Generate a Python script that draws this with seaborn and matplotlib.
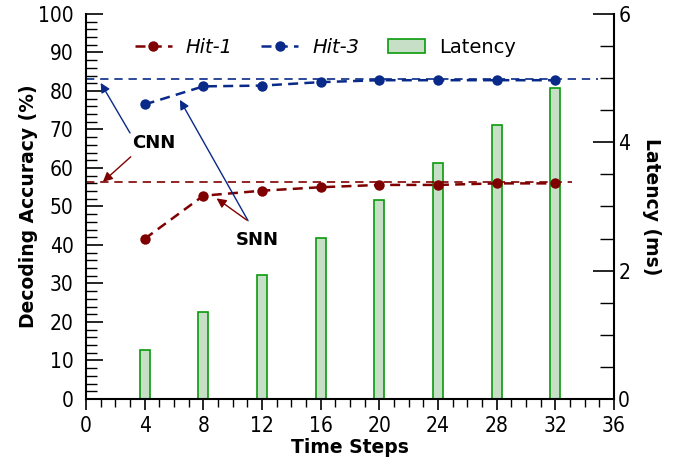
import matplotlib
matplotlib.use("Agg")
import matplotlib.pyplot as plt
from matplotlib import font_manager
from matplotlib.ticker import MultipleLocator
from matplotlib.patches import Patch
from matplotlib.lines import Line2D
import seaborn as sns
import pandas as pd

# Data
time_steps = [4, 8, 12, 16, 20, 24, 28, 32]
hit1 = [41.6, 52.8, 54.1, 55.0, 55.6, 55.6, 56.0, 56.0]
hit3 = [76.5, 81.2, 81.4, 82.3, 82.8, 82.8, 82.8, 82.8]
latency = [0.76, 1.35, 1.93, 2.51, 3.10, 3.68, 4.27, 4.85]
cnn_hit1 = 56.4
cnn_hit3 = 83.2

red = "#7f0000"
blue = "#0a2a8a"
bar_fill = "#c6dfc6"
bar_edge = "#0a9a0a"

sns.set_style("white")
plt.rcParams['font.family'] = ['DejaVu Sans']
plt.rcParams.update({"text.color": "black", "axes.labelcolor": "black",
                     "xtick.color": "black", "ytick.color": "black"})

# narrow regular font for the tick numbers, if one is there
narrow = [f for f in font_manager.fontManager.ttflist
          if ("Narrow" in f.name or "ondensed" in f.fname)
          and f.weight in (400, "normal", "regular", "book") and f.style == "normal"]
narrow.sort(key=lambda f: 0 if "Liberation" in f.name else 1)
if narrow:
    tick_prop = font_manager.FontProperties(fname=narrow[0].fname, size=15)
else:
    tick_prop = font_manager.FontProperties(family="DejaVu Sans", size=14)

df = pd.DataFrame({"Time Steps": time_steps, "Hit-1": hit1,
                   "Hit-3": hit3, "Latency": latency})

fig = plt.figure(figsize=(6.88, 4.66), dpi=100)
ax = fig.add_axes([0.125, 0.1438, 0.7675, 0.8262])
ax2 = ax.twinx()

# Latency bars on the right axis
sns.barplot(data=df, x="Time Steps", y="Latency", ax=ax2, native_scale=True,
            width=0.17, color=bar_fill, edgecolor=bar_edge, linewidth=1.2,
            saturation=1)
for p in ax2.patches:
    p.set_facecolor(bar_fill)

# CNN reference lines
ax.hlines(cnn_hit3, 0, 34.9, colors=blue, linestyles=(0, (5, 3.5)), lw=1.2)
ax.hlines(cnn_hit1, 0, 33.1, colors=red, linestyles=(0, (5, 3.5)), lw=1.2)

# SNN curves
sns.lineplot(data=df, x="Time Steps", y="Hit-1", ax=ax, color=red, marker="o",
             markersize=7.5, markeredgewidth=0, lw=1.8, linestyle=(0, (4, 2.5)))
sns.lineplot(data=df, x="Time Steps", y="Hit-3", ax=ax, color=blue, marker="o",
             markersize=7.5, markeredgewidth=0, lw=1.8, linestyle=(0, (4, 2.5)))

ax.set_zorder(ax2.get_zorder() + 1)
ax.patch.set_visible(False)

# Axes limits and ticks
ax.set_xlim(0, 36)
ax.set_ylim(0, 100)
ax2.set_ylim(0, 6)
ax.xaxis.set_major_locator(MultipleLocator(4))
ax.xaxis.set_minor_locator(MultipleLocator(1))
ax.yaxis.set_major_locator(MultipleLocator(10))
ax.yaxis.set_minor_locator(MultipleLocator(2))
ax2.yaxis.set_major_locator(MultipleLocator(2))
ax2.yaxis.set_minor_locator(MultipleLocator(0.5))

ax.tick_params(axis="x", which="major", direction="out", length=8, width=1.2,
               pad=4, bottom=True)
ax.tick_params(axis="x", which="minor", direction="out", length=6, width=1.0,
               bottom=True)
ax.tick_params(axis="y", which="major", direction="in", length=12, width=1.2,
               pad=9, left=True)
ax.tick_params(axis="y", which="minor", direction="in", length=8, width=1.0,
               left=True)
ax2.tick_params(axis="y", which="major", direction="in", length=15, width=1.2,
                pad=3, right=True)
ax2.tick_params(axis="y", which="minor", direction="in", length=10, width=1.0,
                right=True)
for lab in ax.get_xticklabels() + ax.get_yticklabels() + ax2.get_yticklabels():
    lab.set_fontproperties(tick_prop)

for a in (ax, ax2):
    a.spines["top"].set_visible(False)
    for s in ("left", "right", "bottom"):
        a.spines[s].set_linewidth(1.5)
        a.spines[s].set_color("black")
ax2.spines["bottom"].set_visible(False)
ax.spines["right"].set_visible(False)
ax2.spines["left"].set_visible(False)

ax.set_xlabel("Time Steps", fontsize=13.5, fontweight="bold", labelpad=2)
ax.set_ylabel("Decoding Accuracy (%)", fontsize=13.5, fontweight="bold", labelpad=0)
ax2.set_ylabel("Latency (ms)", fontsize=13.5, fontweight="bold", rotation=270,
               labelpad=22)

# Annotations
arrow_kw = dict(arrowstyle="-|>", lw=1.0, mutation_scale=14, shrinkA=0, shrinkB=0)
ax.text(4.6, 66.5, "CNN", fontsize=13, fontweight="bold", ha="center", va="center")
ax.annotate("", xy=(1.0, 82.1), xytext=(3.0, 69.1),
            arrowprops=dict(color=blue, **arrow_kw))
ax.annotate("", xy=(1.15, 56.4), xytext=(3.05, 62.9),
            arrowprops=dict(color=red, **arrow_kw))
ax.text(11.7, 41.3, "SNN", fontsize=13, fontweight="bold", ha="center", va="center")
ax.annotate("", xy=(6.4, 77.7), xytext=(11.05, 46.3),
            arrowprops=dict(color=blue, **arrow_kw))
ax.annotate("", xy=(8.9, 52.1), xytext=(10.95, 46.5),
            arrowprops=dict(color=red, **arrow_kw))

# Legend
handles = [
    Line2D([], [], color=red, marker="o", markersize=7.5, markeredgewidth=0, lw=1.8,
           linestyle=(0, (4, 2.5))),
    Line2D([], [], color=blue, marker="o", markersize=7.5, markeredgewidth=0, lw=1.8,
           linestyle=(0, (4, 2.5))),
    Patch(facecolor=bar_fill, edgecolor=bar_edge, linewidth=1.2),
]
leg = ax.legend(handles, ["Hit-1", "Hit-3", "Latency"], ncol=3, frameon=False,
                loc="center", bbox_to_anchor=(0.453, 0.914), fontsize=14,
                handlelength=1.9, columnspacing=1.5, handletextpad=0.7)
for t in leg.get_texts()[:2]:
    t.set_style("italic")

fig.savefig("out.png", dpi=100)
